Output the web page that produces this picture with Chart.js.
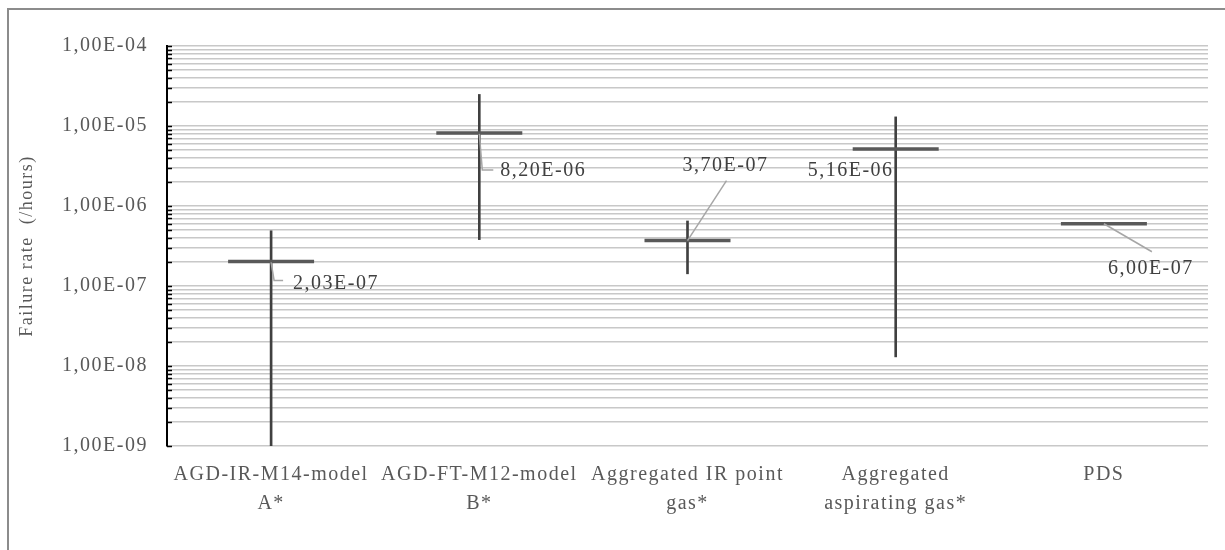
<!DOCTYPE html>
<html>
<head>
<meta charset="utf-8">
<script src="https://cdn.jsdelivr.net/npm/chart.js@4/dist/chart.umd.min.js"></script>
<style>
  html, body { margin: 0; padding: 0; background: #fff; }
  #rateChart { display: block; }
</style>
</head>
<body>
<canvas id="rateChart" width="1225" height="550"></canvas>
<script>
const categories = [
  ["AGD-IR-M14-model", "A*"],
  ["AGD-FT-M12-model", "B*"],
  ["Aggregated IR point", "gas*"],
  ["Aggregated", "aspirating gas*"],
  "PDS",
];
const medianRates = [2.03e-7, 8.2e-6, 3.7e-7, 5.16e-6, 6.0e-7];
const lowerRates = [1.0e-9, 3.8e-7, 1.42e-7, 1.3e-8, null];
const upperRates = [4.9e-7, 2.48e-5, 6.5e-7, 1.3e-5, null];

// y axis: every 1..9 step of each decade gets a gridline, decades get a label
const decadeExponents = [-9, -8, -7, -6, -5, -4];
const mantissas = [1, 2, 3, 4, 5, 6, 7, 8, 9];

// where each value label sits relative to its median mark, plus its leader line
const labelPlacement = [
  { dx: 22, dy: 22, leader: [[0, 1], [3, 19], [12, 19]] },
  { dx: 21, dy: 38, leader: [[0, 1], [3, 37], [14, 37]] },
  { dx: -5, dy: -75, leader: [[0, 0], [39, -60]] },
  { dx: -88, dy: 22, leader: null },
  { dx: 4, dy: 45, leader: [[0, 0], [48, 28]] },
];

const FONT = '"Liberation Serif", "DejaVu Serif", serif';
const LETTER_SPACING = "1.5px";

function sci(v) {
  const [m, e] = v.toExponential(2).split("e");
  const n = parseInt(e, 10);
  return m.replace(".", ",") + "E" + (n < 0 ? "-" : "+") + String(Math.abs(n)).padStart(2, "0");
}

function isDecade(v) {
  const l = Math.log10(v);
  return Math.abs(l - Math.round(l)) < 1e-9;
}

const yTickValues = [];
decadeExponents.forEach((e, i) => {
  mantissas.forEach((m) => {
    if (i === decadeExponents.length - 1 && m > 1) return;
    yTickValues.push(Number((m * Math.pow(10, e)).toPrecision(3)));
  });
});

const rangeBars = categories.map((_, i) =>
  lowerRates[i] == null ? null : [lowerRates[i], upperRates[i]]
);

Chart.defaults.font.family = FONT;
Chart.defaults.color = "#595959";

const spacing = {
  id: "spacing",
  beforeUpdate(chart) { chart.ctx.letterSpacing = LETTER_SPACING; },
  beforeDraw(chart) { chart.ctx.letterSpacing = LETTER_SPACING; },
};

const frameAndTicks = {
  id: "frameAndTicks",
  afterDraw(chart) {
    const ctx = chart.ctx;
    const y = chart.scales.y;
    ctx.save();
    // short inward tick marks on the value axis
    ctx.strokeStyle = "#000";
    ctx.lineWidth = 1.5;
    yTickValues.forEach((v) => {
      const py = Math.round(y.getPixelForValue(v)) + 0.5;
      ctx.beginPath();
      ctx.moveTo(y.right, py);
      ctx.lineTo(y.right + 5, py);
      ctx.stroke();
    });
    // outer frame
    ctx.strokeStyle = "#8c8c8c";
    ctx.lineWidth = 2;
    ctx.beginPath();
    ctx.moveTo(8, 550);
    ctx.lineTo(8, 9);
    ctx.lineTo(1225, 9);
    ctx.stroke();
    ctx.restore();
  },
};

const valueLabels = {
  id: "valueLabels",
  afterDatasetsDraw(chart) {
    const ctx = chart.ctx;
    const meta = chart.getDatasetMeta(0);
    ctx.save();
    meta.data.forEach((pt, i) => {
      const p = labelPlacement[i];
      if (p.leader) {
        ctx.strokeStyle = "#a6a6a6";
        ctx.lineWidth = 1.5;
        ctx.beginPath();
        p.leader.forEach(([lx, ly], k) => {
          if (k === 0) ctx.moveTo(pt.x + lx, pt.y + ly);
          else ctx.lineTo(pt.x + lx, pt.y + ly);
        });
        ctx.stroke();
      }
      ctx.fillStyle = "#404040";
      ctx.font = "20px " + FONT;
      ctx.textAlign = "left";
      ctx.textBaseline = "middle";
      ctx.fillText(sci(medianRates[i]), pt.x + p.dx, pt.y + p.dy);
    });
    ctx.restore();
  },
};

new Chart(document.getElementById("rateChart"), {
  type: "bar",
  data: {
    labels: categories,
    datasets: [
      {
        type: "line",
        data: medianRates,
        showLine: false,
        pointStyle: "line",
        pointRadius: 43,
        pointHoverRadius: 43,
        borderColor: "#595959",
        borderWidth: 3.5,
        order: 0,
      },
      {
        type: "bar",
        data: rangeBars,
        backgroundColor: "#404040",
        barThickness: 2,
        order: 1,
      },
    ],
  },
  options: {
    responsive: false,
    animation: false,
    layout: { autoPadding: false, padding: { top: 46, right: 17, bottom: 0, left: 0 } },
    plugins: {
      legend: { display: false },
      tooltip: { enabled: false },
    },
    scales: {
      x: {
        afterFit: (scale) => {
          scale.height = 104;
          scale.paddingLeft = 0;
          scale.paddingRight = 0;
        },
        grid: { display: false, drawTicks: false },
        border: { display: false },
        ticks: {
          padding: 14,
          maxRotation: 0,
          autoSkip: false,
          font: { size: 20, lineHeight: 1.45 },
          color: "#595959",
        },
      },
      y: {
        type: "logarithmic",
        min: 1e-9,
        max: 1e-4,
        afterFit: (scale) => { scale.width = 167; },
        afterBuildTicks: (scale) => {
          scale.ticks = yTickValues.map((v) => ({ value: v }));
        },
        grid: { color: "#c8c8c8", lineWidth: 1.5, drawTicks: false },
        border: { color: "#000", width: 2 },
        ticks: {
          autoSkip: false,
          padding: 19,
          font: { size: 20 },
          color: "#595959",
          callback: (v) => (isDecade(v) ? sci(v) : ""),
        },
        title: {
          display: true,
          text: "Failure rate  (/hours)",
          font: { size: 18 },
          color: "#595959",
          padding: { top: 16, bottom: 0 },
        },
      },
    },
  },
  plugins: [spacing, valueLabels, frameAndTicks],
});
</script>
</body>
</html>
